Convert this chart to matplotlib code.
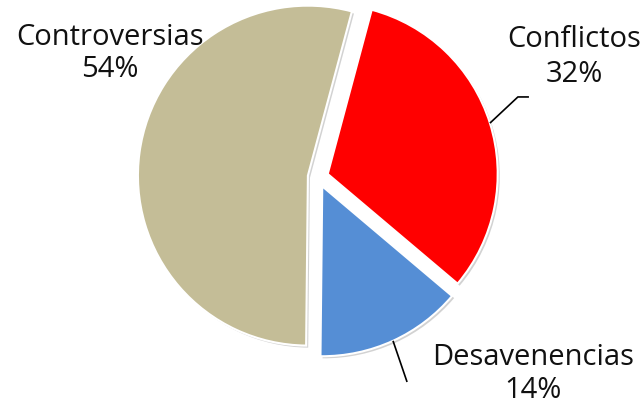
import numpy as np
import matplotlib
matplotlib.use("Agg")
import matplotlib.pyplot as plt
import matplotlib.patheffects as pe

labels = ["Conflictos", "Desavenencias", "Controversias"]
values = [32, 14, 54]
colors = ["#FF0000", "#558ED5", "#C4BD97"]

# label anchor (x centre, baseline of name, baseline of percent) in data units
label_pos = {
    "Conflictos": (1.506, 0.765, 0.559),
    "Desavenencias": (1.265, -1.106, -1.300),
    "Controversias": (-1.224, 0.776, 0.588),
}
# leader line elbows for the right-hand labels
leaders = {
    "Conflictos": [(1.176, 0.471), (1.241, 0.471)],
    "Desavenencias": [(0.524, -1.206)],
}

plt.rcParams["font.family"] = ["Open Sans", "DejaVu Sans"]

fig = plt.figure(figsize=(6.44, 4.05), dpi=100)
ax = fig.add_axes([0, 0, 1, 1])

wedges, _ = ax.pie(
    values,
    colors=colors,
    startangle=75,
    counterclock=False,
    explode=[0.06] * len(values),
    radius=1.0,
    wedgeprops=dict(edgecolor="white", linewidth=1.5),
)
for w in wedges:
    w.set_path_effects([
        pe.SimplePatchShadow(offset=(1.5, -1.5), shadow_rgbFace="#808080", alpha=0.35),
        pe.Normal(),
    ])

for w, name, v in zip(wedges, labels, values):
    cx, cy, cy2 = label_pos[name]
    ax.text(cx, cy, name, ha="center", va="baseline", fontsize=21, color="#111111")
    ax.text(cx, cy2, f"{v}%", ha="center", va="baseline", fontsize=21, color="#111111")
    if name in leaders:
        mid = np.deg2rad((w.theta1 + w.theta2) / 2)
        x0 = w.center[0] + w.r * np.cos(mid)
        y0 = w.center[1] + w.r * np.sin(mid)
        pts = [(x0, y0)] + leaders[name]
        xs, ys = zip(*pts)
        ax.plot(xs, ys, color="black", lw=1.2, solid_capstyle="butt")

ax.set_xlim(-1.871, 1.918)
ax.set_ylim(-1.341, 1.041)
ax.set_aspect("equal")
ax.axis("off")

fig.savefig("out.png", dpi=100)
